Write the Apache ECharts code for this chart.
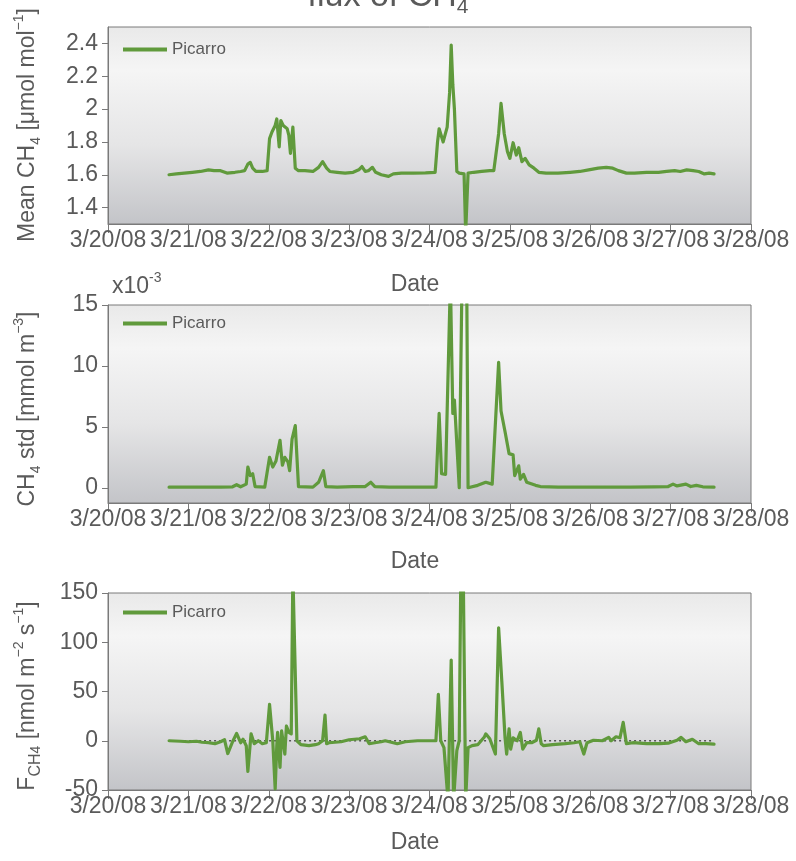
<!DOCTYPE html>
<html>
<head>
<meta charset="utf-8">
<script src="https://cdn.jsdelivr.net/npm/echarts@6/dist/echarts.min.js"></script>
<style>
  html, body { margin: 0; padding: 0; background: #ffffff; }
  #chart { width: 796px; height: 861px; }
</style>
</head>
<body>
<div id="chart"></div>
<script>
// ---- data: [day offset from 3/20/08 00:00 UTC, value] ----
const dateLabels = ['3/20/08', '3/21/08', '3/22/08', '3/23/08', '3/24/08', '3/25/08', '3/26/08', '3/27/08', '3/28/08'];

// Mean CH4 mixing ratio [µmol mol-1]
const meanCH4 = [
  [0.76,1.600],[0.85,1.605],[0.95,1.610],[1.05,1.615],[1.15,1.620],[1.25,1.630],[1.32,1.625],[1.40,1.625],
  [1.48,1.610],[1.58,1.615],[1.65,1.620],[1.70,1.625],[1.74,1.665],[1.77,1.675],[1.80,1.640],[1.84,1.620],
  [1.92,1.620],[1.98,1.625],[2.01,1.820],[2.04,1.860],[2.08,1.900],[2.10,1.940],[2.13,1.770],[2.15,1.930],
  [2.18,1.900],[2.20,1.910],[2.23,1.880],[2.25,1.840],[2.27,1.730],[2.30,1.890],[2.33,1.640],[2.37,1.625],
  [2.45,1.625],[2.55,1.620],[2.62,1.645],[2.67,1.680],[2.72,1.640],[2.76,1.620],[2.85,1.615],[2.95,1.610],
  [3.05,1.615],[3.12,1.630],[3.16,1.650],[3.20,1.620],[3.24,1.625],[3.29,1.645],[3.33,1.615],[3.40,1.600],
  [3.49,1.590],[3.55,1.605],[3.65,1.610],[3.80,1.610],[3.95,1.612],[4.07,1.615],[4.10,1.800],[4.12,1.880],
  [4.17,1.800],[4.22,1.890],[4.25,2.100],[4.27,2.390],[4.29,2.150],[4.31,2.000],[4.34,1.620],[4.37,1.610],
  [4.43,1.605],[4.45,1.250],[4.48,1.610],[4.55,1.615],[4.65,1.620],[4.75,1.625],[4.80,1.625],[4.86,1.850],
  [4.89,2.035],[4.93,1.850],[4.97,1.740],[5.00,1.700],[5.04,1.795],[5.08,1.720],[5.11,1.765],[5.15,1.680],
  [5.19,1.700],[5.24,1.660],[5.30,1.640],[5.36,1.615],[5.45,1.610],[5.60,1.610],[5.75,1.615],[5.87,1.620],
  [5.98,1.630],[6.10,1.640],[6.20,1.645],[6.28,1.640],[6.35,1.625],[6.45,1.610],[6.55,1.610],[6.70,1.615],
  [6.85,1.615],[6.95,1.620],[7.05,1.625],[7.12,1.620],[7.20,1.630],[7.28,1.625],[7.35,1.620],[7.42,1.605],
  [7.48,1.610],[7.54,1.605]
];

// CH4 standard deviation [x10^-3 mmol m-3]
const stdCH4 = [
  [0.76,0.05],[1.00,0.05],[1.20,0.06],[1.40,0.05],[1.55,0.08],[1.60,0.25],[1.65,0.08],[1.72,0.30],
  [1.74,1.70],[1.77,1.00],[1.80,1.15],[1.83,0.10],[1.95,0.05],[2.01,2.50],[2.05,1.70],[2.09,2.20],
  [2.14,3.90],[2.17,1.85],[2.20,2.50],[2.24,2.10],[2.26,1.40],[2.29,4.00],[2.33,5.10],[2.37,0.10],
  [2.55,0.05],[2.62,0.45],[2.68,1.40],[2.71,0.10],[2.85,0.05],[3.05,0.10],[3.20,0.10],[3.27,0.45],
  [3.32,0.10],[3.50,0.05],[3.70,0.05],[3.90,0.05],[4.08,0.05],[4.12,6.10],[4.15,1.15],[4.20,1.10],
  [4.26,17.0],[4.29,6.10],[4.31,7.20],[4.34,3.60],[4.37,0.00],[4.39,0.00],[4.41,20.0],[4.46,20.0],
  [4.48,0.00],[4.60,0.20],[4.70,0.45],[4.78,0.30],[4.86,10.3],[4.89,6.30],[4.94,4.60],[4.99,2.80],
  [5.04,2.70],[5.06,1.00],[5.11,1.80],[5.13,0.70],[5.17,1.10],[5.21,0.45],[5.32,0.20],[5.38,0.10],
  [5.60,0.05],[5.90,0.05],[6.20,0.06],[6.50,0.05],[6.80,0.08],[6.97,0.10],[7.03,0.30],[7.08,0.15],
  [7.19,0.30],[7.25,0.10],[7.32,0.20],[7.40,0.08],[7.54,0.05]
];

// CH4 flux [nmol m-2 s-1]
const fluxCH4 = [
  [0.76,0.0],[0.90,-0.5],[1.00,-1.0],[1.10,-0.5],[1.17,-1.5],[1.25,-2.0],[1.33,-3.0],[1.40,-1.0],
  [1.45,1.0],[1.49,-13.0],[1.55,-1.0],[1.60,7.5],[1.65,-2.0],[1.68,1.5],[1.72,-5.0],[1.74,-31.0],
  [1.78,7.0],[1.82,-3.0],[1.87,0.0],[1.92,-3.0],[1.97,-2.0],[2.01,37.0],[2.05,0.0],[2.08,-49.0],
  [2.10,-5.0],[2.11,8.5],[2.14,-27.0],[2.16,10.0],[2.20,-13.5],[2.22,15.0],[2.25,8.5],[2.28,7.0],
  [2.30,170.0],[2.32,170.0],[2.35,0.0],[2.40,-4.0],[2.50,-5.0],[2.58,-4.0],[2.62,-3.0],[2.67,0.0],
  [2.70,26.0],[2.72,-3.0],[2.75,-2.0],[2.90,-1.0],[3.00,1.0],[3.13,2.0],[3.20,4.0],[3.25,-3.0],
  [3.32,-2.0],[3.40,-1.0],[3.45,0.0],[3.60,-3.0],[3.70,-1.0],[3.85,0.0],[4.00,0.0],[4.08,0.0],
  [4.11,47.0],[4.14,0.0],[4.18,-7.0],[4.23,-60.0],[4.27,82.0],[4.30,-60.0],[4.34,-10.0],[4.37,0.0],
  [4.39,170.0],[4.42,170.0],[4.45,-60.0],[4.48,-7.0],[4.53,-5.0],[4.60,-4.0],[4.68,3.5],[4.70,7.0],
  [4.75,2.0],[4.82,-13.5],[4.86,114.6],[4.90,60.0],[4.94,3.0],[4.96,-13.5],[4.99,12.0],[5.01,-8.5],
  [5.04,3.0],[5.09,0.0],[5.13,8.5],[5.16,-8.5],[5.21,-2.0],[5.27,-2.0],[5.33,0.5],[5.36,12.0],
  [5.39,-3.0],[5.42,-5.0],[5.53,-4.0],[5.69,-3.0],[5.80,-2.0],[5.87,-1.0],[5.92,-13.5],[5.96,-2.0],
  [6.04,0.5],[6.15,0.0],[6.23,3.5],[6.26,0.0],[6.32,4.0],[6.37,3.0],[6.41,18.6],[6.45,-3.0],
  [6.53,-2.0],[6.70,-3.0],[6.86,-3.0],[6.97,-2.5],[7.08,0.5],[7.13,3.4],[7.19,-1.0],[7.27,1.5],
  [7.35,-3.0],[7.44,-3.0],[7.54,-3.4]
];

// zero reference drawn under the flux trace
const fluxZero = [[0.76, 0], [7.54, 0]];

const meanTicks = [1.4, 1.6, 1.8, 2.0, 2.2, 2.4];
const stdTicks = [0, 5, 10, 15];

// ---- styling helpers ----
const FONT = '"Liberation Sans", Arial, Helvetica, sans-serif';
const TXT = '#5a5a5a';
const AXIS = '#7a7a7a';
const GREEN = '#609a3c';
const DAY = 86400000;
const T0 = Date.UTC(2008, 2, 20);
const toTime = d => T0 + d * DAY;
const toSeries = arr => arr.map(p => [toTime(p[0]), p[1]]);

// soft vertical shading of each plot area
const plotBg = {
  type: 'linear', x: 0, y: 0, x2: 0, y2: 1,
  colorStops: [
    { offset: 0, color: '#e9e9e9' },
    { offset: 0.22, color: '#f5f5f5' },
    { offset: 0.6, color: '#e5e5e6' },
    { offset: 1, color: '#c3c4c8' }
  ]
};

const gridTops = [27, 305, 593];
const gridHeights = [197, 198, 197];

const grids = gridTops.map((t, i) => ({
  left: 108, right: 45, top: t, height: gridHeights[i],
  show: true, backgroundColor: plotBg, borderColor: AXIS, borderWidth: 1
}));

const xAxes = gridTops.map((t, i) => ({
  type: 'value', gridIndex: i,
  min: T0, max: T0 + 8 * DAY, interval: DAY,
  axisLine: { show: true, onZero: false, lineStyle: { color: AXIS, width: 1 } },
  axisTick: { show: true, inside: false, length: 9, lineStyle: { color: AXIS, width: 1 } },
  axisLabel: {
    formatter: v => dateLabels[Math.round((v - T0) / DAY)],
    color: TXT, fontSize: 23, fontFamily: FONT, margin: 5,
    showMinLabel: true, showMaxLabel: true
  },
  splitLine: { show: false }
}));

const yBase = {
  type: 'value',
  axisLine: { show: true, lineStyle: { color: AXIS, width: 1 } },
  splitLine: { show: false }
};
const yLabel = { color: TXT, fontSize: 23, fontFamily: FONT, margin: 10 };
const yTick = { show: true, inside: false, length: 6, lineStyle: { color: AXIS, width: 1 } };

const yAxes = [
  Object.assign({}, yBase, {
    gridIndex: 0, min: 1.3, max: 2.5,
    axisTick: Object.assign({}, yTick, { customValues: meanTicks }),
    axisLabel: Object.assign({}, yLabel, { customValues: meanTicks, formatter: v => String(Math.round(v * 10) / 10) })
  }),
  Object.assign({}, yBase, {
    gridIndex: 1, min: -1.25, max: 15,
    axisTick: Object.assign({}, yTick, { customValues: stdTicks }),
    axisLabel: Object.assign({}, yLabel, { customValues: stdTicks })
  }),
  Object.assign({}, yBase, {
    gridIndex: 2, min: -50, max: 150, interval: 50,
    axisTick: yTick,
    axisLabel: yLabel
  })
];

const lineSeries = (data, i) => ({
  name: 'Picarro', type: 'line', xAxisIndex: i, yAxisIndex: i,
  data: toSeries(data), showSymbol: false, symbol: 'none', clip: true,
  lineStyle: { color: GREEN, width: 3.2, join: 'round', cap: 'round' },
  itemStyle: { color: GREEN }, z: 3
});

const legends = [50, 324, 613].map(cy => ({
  data: ['Picarro'], left: 123, top: cy - 9, padding: 0,
  icon: 'rect', itemWidth: 44, itemHeight: 4,
  textStyle: { color: TXT, fontSize: 17, fontFamily: FONT },
  selectedMode: false
}));

// rich text pieces for titles
const richMain = (fs) => ({ fontSize: fs, fontFamily: FONT, fill: TXT, lineHeight: fs + 8 });
const richSub = (fs) => ({ fontSize: fs, fontFamily: FONT, fill: TXT, lineHeight: fs, verticalAlign: 'bottom' });
const richSup = (fs) => ({ fontSize: fs, fontFamily: FONT, fill: TXT, lineHeight: fs, verticalAlign: 'top' });
const richSet = { m: richMain(23), s: richSub(14), p: richSup(14), c: richSub(16) };

const yTitle = (text, cy) => ({
  type: 'text', x: 28, y: cy, rotation: Math.PI / 2,
  style: { text: text, rich: richSet, align: 'center', verticalAlign: 'middle' }
});
const dateTitle = cy => ({
  type: 'text', x: 415, y: cy,
  style: { text: 'Date', fontSize: 23, fontFamily: FONT, fill: TXT, align: 'center', verticalAlign: 'middle' }
});

const graphics = [
  {
    type: 'text', x: 388, y: -3,
    style: {
      text: '{m|flux of CH}{s|4}',
      rich: { m: richMain(34), s: richSub(21) },
      align: 'center', verticalAlign: 'middle'
    }
  },
  yTitle('{m|Mean CH}{s|4}{m| [μmol mol}{p|−1}{m|]}', 125),
  yTitle('{m|CH}{s|4}{m| std [mmol m}{p|−3}{m|]}', 409),
  yTitle('{m|F}{c|CH}{s|4}{m| [nmol m}{p|−2}{m| s}{p|−1}{m|]}', 696),
  {
    type: 'text', x: 112, y: 287,
    style: { text: '{m|x10}{p|-3}', rich: { m: richMain(23), p: richSup(14) }, align: 'left', verticalAlign: 'middle' }
  },
  dateTitle(285), dateTitle(562), dateTitle(843)
];

const chart = echarts.init(document.getElementById('chart'), null, { renderer: 'canvas' });
chart.setOption({
  animation: false,
  backgroundColor: '#ffffff',
  grid: grids,
  xAxis: xAxes,
  yAxis: yAxes,
  legend: legends,
  graphic: graphics,
  series: [
    lineSeries(meanCH4, 0),
    lineSeries(stdCH4, 1),
    {
      name: 'zero', type: 'line', xAxisIndex: 2, yAxisIndex: 2,
      data: toSeries(fluxZero), showSymbol: false, symbol: 'none', silent: true,
      lineStyle: { color: '#555555', width: 1.6, type: [2, 3] }, z: 2
    },
    lineSeries(fluxCH4, 2)
  ]
});
</script>
</body>
</html>
